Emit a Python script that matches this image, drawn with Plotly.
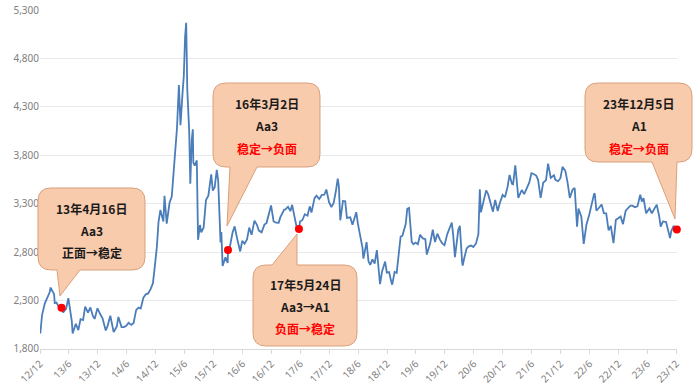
import plotly.graph_objects as go

# ---------------- data ----------------
dates = [
"2012-12-03","2012-12-14","2012-12-31","2013-01-15","2013-01-31","2013-02-06","2013-02-20","2013-02-28",
"2013-03-04","2013-03-15","2013-03-29","2013-04-08","2013-04-16","2013-04-26","2013-05-15","2013-05-29",
"2013-06-07","2013-06-20","2013-06-25","2013-07-05","2013-07-15","2013-07-31","2013-08-14","2013-08-30",
"2013-09-12","2013-09-30","2013-10-15","2013-10-31","2013-11-11","2013-11-25","2013-11-29","2013-12-16",
"2013-12-31","2014-01-20","2014-01-31","2014-02-18","2014-02-28","2014-03-11","2014-03-31","2014-04-10",
"2014-04-30","2014-05-15","2014-05-30","2014-06-13","2014-06-30","2014-07-15","2014-07-31","2014-08-15",
"2014-08-29","2014-09-15","2014-09-30","2014-10-15","2014-10-31","2014-11-14","2014-11-28","2014-12-09",
"2014-12-19","2014-12-31","2015-01-19","2015-01-26","2015-02-09","2015-02-27","2015-03-13","2015-03-31",
"2015-04-15","2015-04-27","2015-05-07","2015-05-20","2015-05-28","2015-06-05","2015-06-12","2015-06-19",
"2015-06-26","2015-07-01","2015-07-08","2015-07-17","2015-07-24","2015-07-27","2015-08-05","2015-08-18",
"2015-08-26","2015-09-07","2015-09-15","2015-09-30","2015-10-15","2015-10-30","2015-11-17","2015-11-27",
"2015-12-09","2015-12-22","2015-12-31","2016-01-07","2016-01-15","2016-01-20","2016-01-28","2016-02-15",
"2016-02-29","2016-03-02","2016-03-15","2016-03-31","2016-04-13","2016-04-29","2016-05-18","2016-05-31",
"2016-06-15","2016-06-30","2016-07-14","2016-07-29","2016-08-16","2016-08-31","2016-09-13","2016-09-30",
"2016-10-18","2016-10-31","2016-11-15","2016-11-29","2016-12-15","2016-12-30","2017-01-16","2017-01-26",
"2017-02-20","2017-02-28","2017-03-16","2017-03-31","2017-04-11","2017-04-28","2017-05-10","2017-05-24",
"2017-05-31","2017-06-15","2017-06-30","2017-07-17","2017-07-31","2017-08-11","2017-08-31","2017-09-12",
"2017-09-29","2017-10-16","2017-10-31","2017-11-13","2017-11-23","2017-11-30","2017-12-15","2017-12-29",
"2018-01-12","2018-01-24","2018-01-31","2018-02-09","2018-02-26","2018-03-12","2018-03-23","2018-04-13",
"2018-04-27","2018-05-21","2018-05-31","2018-06-19","2018-06-29","2018-07-05","2018-07-25","2018-08-06",
"2018-08-17","2018-08-31","2018-09-14","2018-09-28","2018-10-11","2018-10-18","2018-10-31","2018-11-19",
"2018-11-30","2018-12-14","2018-12-28","2019-01-03","2019-01-18","2019-01-31","2019-02-25","2019-03-08",
"2019-03-29","2019-04-08","2019-04-19","2019-05-06","2019-05-17","2019-05-31","2019-06-14","2019-06-28",
"2019-07-15","2019-07-31","2019-08-09","2019-08-30","2019-09-16","2019-09-30","2019-10-15","2019-10-31",
"2019-11-15","2019-11-29","2019-12-16","2019-12-31","2020-01-14","2020-01-23","2020-02-03","2020-02-24",
"2020-03-05","2020-03-19","2020-03-23","2020-04-01","2020-04-17","2020-04-30","2020-05-15","2020-05-29",
"2020-06-15","2020-06-30","2020-07-09","2020-07-16","2020-07-31","2020-08-18","2020-08-31","2020-09-15",
"2020-09-30","2020-10-14","2020-10-30","2020-11-13","2020-11-30","2020-12-15","2020-12-31","2021-01-13",
"2021-01-28","2021-02-04","2021-02-18","2021-03-09","2021-03-19","2021-03-31","2021-04-15","2021-04-30",
"2021-05-17","2021-05-31","2021-06-10","2021-06-30","2021-07-12","2021-07-28","2021-08-13","2021-08-31",
"2021-09-13","2021-09-30","2021-10-20","2021-10-29","2021-11-15","2021-11-30","2021-12-13","2021-12-31",
"2022-01-14","2022-01-28","2022-02-15","2022-02-28","2022-03-15","2022-03-24","2022-04-11","2022-04-26",
"2022-05-13","2022-05-31","2022-06-15","2022-06-30","2022-07-05","2022-07-15","2022-07-29","2022-08-17",
"2022-08-31","2022-09-15","2022-09-30","2022-10-14","2022-10-31","2022-11-15","2022-11-30","2022-12-15",
"2022-12-30","2023-01-16","2023-01-31","2023-02-15","2023-02-28","2023-03-15","2023-03-31","2023-04-18",
"2023-04-28","2023-05-09","2023-05-25","2023-06-15","2023-06-30","2023-07-14","2023-07-31","2023-08-15",
"2023-08-25","2023-09-08","2023-09-28","2023-10-23","2023-10-31","2023-11-15","2023-11-30","2023-12-05",
]
values = [
1959,2150,2269,2325,2385,2434,2383,2366,
2273,2278,2236,2225,2224,2177,2217,2324,
2210,2084,1959,2007,2060,1994,2107,2098,
2237,2175,2229,2141,2110,2197,2220,2160,
2116,1991,2033,2143,2056,1974,2033,2130,
2026,2025,2039,2070,2048,2068,2201,2226,
2217,2330,2364,2373,2420,2478,2683,2856,
3108,3235,3116,3383,3095,3310,3373,3748,
4084,4527,4112,4446,4620,5023,5170,4478,
4193,4053,3507,3958,4070,3725,3694,3748,
2927,3080,3005,3053,3338,3383,3604,3436,
3472,3651,3539,3125,2901,3008,2656,2746,
2688,2823,2864,3004,3066,2938,2807,2917,
2887,2930,3054,2979,3125,3085,3023,3005,
3084,3100,3207,3282,3117,3104,3103,3159,
3240,3242,3269,3223,3289,3155,3052,3040,
3117,3132,3192,3176,3273,3209,3361,3384,
3349,3391,3393,3447,3352,3317,3266,3307,
3429,3559,3481,3129,3329,3326,3153,3159,
3082,3213,3095,2908,2847,2733,2903,2705,
2669,2725,2682,2821,2583,2470,2603,2703,
2588,2593,2494,2464,2596,2585,2961,2969,
3091,3247,3257,2906,2882,2899,2882,2979,
2942,2933,2775,2886,3031,2905,2991,2929,
2891,2872,2984,3050,3106,2976,2747,3031,
3071,2702,2660,2734,2839,2860,2868,2852,
2890,2985,3450,3211,3310,3438,3396,3295,
3218,3340,3225,3311,3392,3368,3473,3598,
3505,3501,3696,3360,3405,3442,3399,3447,
3517,3615,3610,3591,3547,3361,3517,3544,
3715,3568,3594,3547,3533,3564,3681,3640,
3521,3361,3446,3462,3064,3250,3167,2886,
3084,3186,3305,3399,3405,3228,3253,3292,
3202,3200,3024,3071,2893,3134,3151,3168,
3089,3228,3256,3280,3280,3263,3273,3393,
3323,3357,3201,3252,3202,3237,3291,3176,
3064,3117,3110,2945,3018,3072,3030,3035,
]

tick_dates = ["2012-12-01","2013-06-01","2013-12-01","2014-06-01","2014-12-01","2015-06-01",
              "2015-12-01","2016-06-01","2016-12-01","2017-06-01","2017-12-01","2018-06-01",
              "2018-12-01","2019-06-01","2019-12-01","2020-06-01","2020-12-01","2021-06-01",
              "2021-12-01","2022-06-01","2022-12-01","2023-06-01","2023-12-01"]
tick_labels = ["12/12","13/6","13/12","14/6","14/12","15/6","15/12","16/6","16/12","17/6","17/12",
               "18/6","18/12","19/6","19/12","20/6","20/12","21/6","21/12","22/6","22/12","23/6","23/12"]
y_ticks = [1800,2300,2800,3300,3800,4300,4800,5300]

event_dates = ["2013-04-16","2016-03-02","2017-05-24","2023-12-05"]
event_values = [2224,2823,3040,3035]
event_title = ["13年4月16日","16年3月2日","17年5月24日","23年12月5日"]
event_rating = ["Aa3","Aa3","Aa3→A1","A1"]
event_outlook = ["正面→稳定","稳定→负面","负面→稳定","稳定→负面"]
event_outlook_color = ["#1a1a1a","#ff0000","#ff0000","#ff0000"]

# ---------------- layout helpers (screen pixel -> paper) ----------------
W, H = 700, 385
PLOT_X0, PLOT_X1 = 40, 677       # px of plot area
PLOT_Y0, PLOT_Y1 = 10, 349
L, T = PLOT_X0, PLOT_Y0
R, B = W - PLOT_X1, H - PLOT_Y1
PW, PH = PLOT_X1 - PLOT_X0, PLOT_Y1 - PLOT_Y0

def px(x):
    return (x - PLOT_X0) / PW

def py(y):
    return (PLOT_Y1 - y) / PH

def callout(x0, y0, x1, y1, bx0, bx1, tx, ty, tail="bottom", r=13):
    pts = []
    def P(cmd, *xy):
        s = cmd
        for i in range(0, len(xy), 2):
            s += f" {px(xy[i]):.5f},{py(xy[i+1]):.5f}"
        pts.append(s)
    P("M", x0 + r, y0)
    if tail == "top":
        P("L", bx0, y0); P("L", tx, ty); P("L", bx1, y0)
    P("L", x1 - r, y0)
    P("Q", x1, y0, x1, y0 + r)
    P("L", x1, y1 - r)
    P("Q", x1, y1, x1 - r, y1)
    if tail == "bottom":
        P("L", bx1, y1); P("L", tx, ty); P("L", bx0, y1)
    P("L", x0 + r, y1)
    P("Q", x0, y1, x0, y1 - r)
    P("L", x0, y0 + r)
    P("Q", x0, y0, x0 + r, y0)
    return " ".join(pts) + " Z"

boxes = [
    dict(x0=38, y0=188, x1=145, y1=270, bx0=57, bx1=80, tx=60, ty=296, tail="bottom", lines=(208, 230, 252)),
    dict(x0=213, y0=83, x1=320, y1=167, bx0=230, bx1=257, tx=227, ty=226, tail="bottom", lines=(103, 125, 148)),
    dict(x0=253, y0=265, x1=357, y1=346, bx0=272, bx1=297, tx=297, ty=234, tail="top", lines=(284, 306, 328)),
    dict(x0=585, y0=83, x1=692, y1=162, bx0=652, bx1=677, tx=675, ty=219, tail="bottom", lines=(103, 125, 148)),
]

fig = go.Figure()
fig.add_trace(go.Scatter(x=dates, y=values, mode="lines",
                         line=dict(color="#4a7dba", width=1.8), hoverinfo="x+y", showlegend=False))
fig.add_trace(go.Scatter(x=event_dates, y=event_values, mode="markers",
                         marker=dict(color="#ff0000", size=8), showlegend=False, cliponaxis=False))

shapes = []
annotations = []
FONT = "Noto Sans CJK SC"
for i, b in enumerate(boxes):
    shapes.append(dict(type="path", xref="paper", yref="paper",
                       path=callout(b["x0"], b["y0"], b["x1"], b["y1"], b["bx0"], b["bx1"], b["tx"], b["ty"], b["tail"]),
                       fillcolor="#f8cbad", line=dict(color="#d9a07c", width=1), layer="above"))
    cx = (b["x0"] + b["x1"]) / 2
    texts = [(event_title[i], "#1a1a1a"), (event_rating[i], "#1a1a1a"), (event_outlook[i], event_outlook_color[i])]
    for (t, c), yy in zip(texts, b["lines"]):
        annotations.append(dict(xref="paper", yref="paper", x=px(cx), y=py(yy), text=f"<b>{t}</b>",
                                showarrow=False, xanchor="center", yanchor="middle",
                                font=dict(family=FONT, size=12, color=c)))

fig.update_layout(
    width=W, height=H,
    margin=dict(l=L, r=R, t=T, b=B, autoexpand=False),
    paper_bgcolor="white", plot_bgcolor="white",
    shapes=shapes, annotations=annotations,
    font=dict(family="Noto Sans", size=10, color="#808080"),
    xaxis=dict(type="date", range=["2012-12-01", "2023-12-06"], automargin=False,
               tickvals=tick_dates, ticktext=tick_labels, tickangle=-45,
               showgrid=False, showline=True, linecolor="#d9d9d9", linewidth=1,
               ticks="outside", ticklen=4, tickcolor="#d9d9d9",
               tickfont=dict(size=10, color="#808080"), zeroline=False),
    yaxis=dict(range=[1799, 5302], tickvals=y_ticks, tickformat=",", automargin=False,
               showgrid=True, gridcolor="#e9e9e9", gridwidth=1, zeroline=False,
               showline=False, ticks="", tickfont=dict(size=10, color="#808080")),
)
fig.write_html("out.html", config={"displayModeBar": False},
               post_script="document.body.style.margin='0';document.body.style.overflow='hidden';")
